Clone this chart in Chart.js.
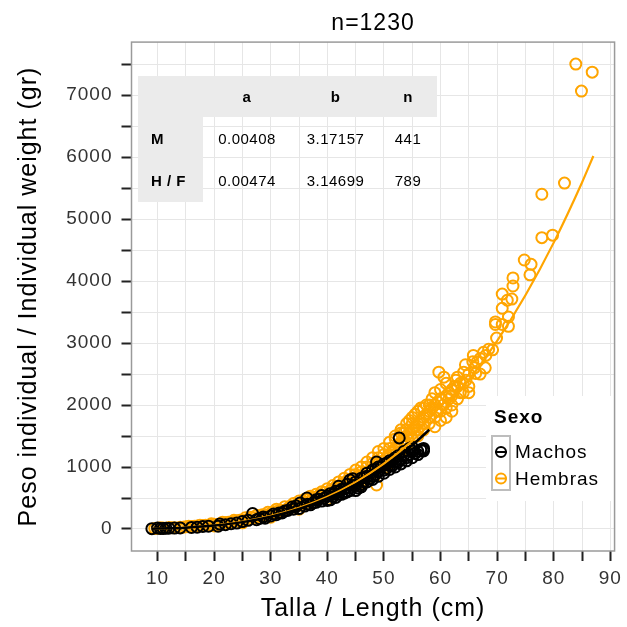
<!DOCTYPE html>
<html>
<head>
<meta charset="utf-8">
<script src="https://cdn.jsdelivr.net/npm/chart.js@4.4.0/dist/chart.umd.min.js"></script>
<style>
  body { margin: 0; background: #fff; }
  #wrap { width: 627px; height: 627px; }
</style>
</head>
<body>
<div id="wrap"><canvas id="lwChart" width="627" height="627"></canvas></div>
<script>
// Machos (black) - length (cm) and weight (gr)
const machosL = [9, 10, 11, 12, 13, 17, 18, 20.7, 21, 22, 24, 26.8, 27.5, 28.7, 29, 30, 31, 32, 33, 33.8,
  35, 35.2, 36, 36.4, 37, 38, 38.5, 39, 40, 40.5, 41, 41.5, 42, 42.5, 43, 43.5, 44, 44, 44.5, 45,
  45.5, 46, 46, 46.5, 47, 47.5, 48, 48, 48.5, 48.7, 49, 49.5, 50, 50, 50.5, 51, 51, 51.5, 52, 52,
  52.5, 52.7, 53, 53.5, 54, 54.5, 55, 55.5, 56, 56.9, 57,
  10.5, 11.5, 14, 16, 19, 23, 25, 26, 28, 30.5, 31.5, 32.5, 34, 34.5, 36.5, 37.5, 38, 39.5, 40, 41,
  42, 42.5, 43, 44, 45, 45, 46, 46.5, 47, 47, 48, 48.5, 49, 49, 50, 50.5, 51, 51.5, 52, 52.5,
  53, 53.5, 54, 54.5, 55, 55, 56, 56.5, 57, 44.5, 43.5, 42, 41.5, 40.5, 39];
const machosW = [5, 15, 10, 12, 15, 30, 40, 45, 80, 70, 95, 250, 150, 195, 175, 210, 230, 260, 300, 355,
  330, 420, 370, 500, 390, 430, 480, 450, 530, 470, 560, 510, 600, 560, 650, 600, 790, 620, 700, 760,
  660, 820, 720, 760, 900, 810, 950, 850, 880, 1080, 920, 1000, 1050, 900, 980, 1100, 960, 1020, 1150, 1000,
  1080, 1470, 1120, 1180, 1150, 1200, 1260, 1220, 1250, 1275, 1260,
  8, 12, 18, 25, 45, 85, 120, 140, 170, 240, 260, 290, 320, 370, 400, 420, 470, 500, 460, 520,
  560, 640, 580, 660, 700, 620, 680, 830, 760, 850, 800, 960, 850, 1000, 950, 1060, 1020, 1100, 1080, 1180,
  1050, 1250, 1100, 1300, 1150, 1320, 1200, 1280, 1300, 810, 720, 690, 610, 570, 540];

// Hembras (orange)
const hembrasL = [9.5, 10.5, 11, 12, 13, 14, 15, 16, 17, 18, 19, 20, 21, 22, 23, 24, 25, 26, 27, 28,
  29, 30, 31, 32, 33, 34, 35, 36, 37, 38, 39, 40, 41, 42, 43, 44, 45, 45.5, 46, 46.5,
  47, 47.5, 48, 48.5, 48.7, 49, 50, 50.5, 51, 51.5, 52, 52, 52.5, 53, 53, 53.5, 54, 54, 54.5, 55,
  55, 55.5, 56, 56, 56.5, 57, 57, 57.5, 58, 58, 58.5, 59, 59, 59.5, 59.7, 60, 60, 60.6, 61, 61,
  61.5, 62, 62, 62.7, 63, 63, 63.5, 64, 64.1, 64.4, 65, 65, 65.7, 65.8, 66.2, 67, 67.6, 67.9,
  69.2, 69.7, 69.7, 69.9, 70.9, 70.9, 70.9, 71.8, 72, 72, 72.6, 72.8, 72.8, 74.8, 75.8, 76,
  77.9, 77.9, 79.8, 81.9, 83.9, 84.9, 86.8,
  10, 12.5, 14.5, 16.5, 18.5, 20.5, 22.5, 24.5, 26.5, 28.5, 30.5, 31.5, 33.5, 35.5, 36.5, 37.5, 38.5, 39.5, 40.5, 41.5,
  42.5, 43.5, 44.5, 45, 46, 47, 48, 49, 50, 50.5, 51, 52, 53, 53.5, 54, 54.5, 55, 55.5, 56, 56.5,
  57, 57.5, 58, 58.5, 59, 59.5, 60, 60.5, 61, 61.5, 62, 62.5, 63, 63.5, 64, 64.5, 65, 66, 66.5, 67,
  68, 68.5, 58, 59, 57, 56, 55, 60, 61, 62,
  15.5, 17.5, 19.5, 21.5, 23.5, 25.5, 27.5, 29.5, 31, 32.5, 34, 35, 36, 37, 38, 39, 40, 41, 42, 43,
  44, 45, 46, 47, 48, 49, 50, 51, 52, 53, 54, 20, 25, 30, 35, 40];
const hembrasW = [10, 20, 15, 25, 20, 30, 35, 40, 50, 55, 60, 75, 80, 100, 110, 130, 140, 160, 180, 200,
  230, 250, 270, 300, 330, 360, 380, 420, 450, 490, 520, 560, 600, 650, 700, 740, 800, 700, 860, 780,
  920, 860, 980, 1000, 710, 1050, 1100, 1150, 1200, 1250, 1300, 1500, 1350, 1400, 1600, 1450, 1500, 1700, 1550, 1600,
  1800, 1650, 1700, 1900, 1750, 1800, 1950, 1850, 1900, 1700, 1950, 2000, 1800, 2050, 2530, 2100, 1900, 2450, 2150, 1950,
  2200, 2250, 2000, 2400, 2300, 2100, 2200, 2350, 2530, 2650, 2300, 2200, 2700, 2800, 2510, 2500, 2850, 2600,
  2890, 3300, 3340, 3080, 3790, 3560, 3300, 3690, 3420, 3270, 3710, 4050, 3920, 4340, 4100, 4270,
  4700, 5400, 4740, 5580, 7500, 7065, 7370,
  12, 22, 28, 45, 60, 70, 110, 140, 190, 230, 280, 300, 370, 420, 470, 500, 540, 590, 620, 680,
  720, 780, 820, 880, 920, 1000, 1060, 1150, 1200, 1000, 1300, 1200, 1250, 1550, 1350, 1750, 1450, 1850, 1500, 1950,
  1600, 2000, 1800, 2100, 1650, 1900, 2250, 2000, 2350, 2100, 2150, 2300, 2450, 2350, 2200, 2400, 2500, 2600, 2700, 2750,
  2800, 2900, 2000, 2200, 1700, 1600, 1700, 1750, 1800, 1900,
  45, 60, 85, 110, 140, 180, 220, 270, 320, 360, 410, 450, 480, 530, 560, 600, 650, 700, 760, 820,
  880, 950, 1000, 1080, 1150, 1250, 1300, 1400, 1450, 1550, 1600, 50, 100, 190, 320, 480];

// fitted W = a*L^b curves
const machosFitL = [9, 12, 15, 20, 25, 30, 35, 40, 45, 50, 55, 58];
const machosFitW = [4.3, 10.8, 21.9, 54.6, 110.8, 197.6, 322, 492, 715, 998, 1350, 1601];
const hembrasFitL = [9, 12, 15, 20, 25, 30, 35, 40, 45, 50, 55, 60, 65, 70, 75, 80, 85, 87];
const hembrasFitW = [4.8, 11.8, 23.8, 58.9, 118.9, 211, 343, 522, 756, 1053, 1421, 1869, 2403, 3035, 3771, 4620, 5590, 6017];

// inset table
const tableCols = ['a', 'b', 'n'];
const tableRows = ['M', 'H / F'];
const tableA = ['0.00408', '0.00474'];
const tableB = ['3.17157', '3.14699'];
const tableN = ['441', '789'];

// axis ticks
const xTicks = [10, 15, 20, 25, 30, 35, 40, 45, 50, 55, 60, 65, 70, 75, 80, 85, 90];
const yTicks = [0, 500, 1000, 1500, 2000, 2500, 3000, 3500, 4000, 4500, 5000, 5500, 6000, 6500, 7000, 7500];

const FONT = "'Liberation Sans', Arial, sans-serif";
const colors = {
  machos: '#000000',
  hembras: '#FFA500'
};

const toPoints = (xs, ys) => xs.map((x, i) => ({ x: x, y: ys[i] }));

// the original text is set a little wider than Liberation Sans
const wideText = {
  id: 'wideText',
  beforeDraw(chart) {
    chart.ctx.letterSpacing = '1px';
  }
};

// table drawn inside the panel, behind the points
const insetTable = {
  id: 'insetTable',
  beforeDatasetsDraw(chart) {
    const ctx = chart.ctx;
    ctx.save();
    ctx.letterSpacing = '0.5px';
    ctx.fillStyle = '#ebebeb';
    ctx.fillRect(138, 76, 299, 41);
    ctx.fillRect(138, 76, 65, 126);
    ctx.fillStyle = '#000';
    ctx.textBaseline = 'middle';
    ctx.textAlign = 'center';
    const colX = [247, 335.5, 408];
    ctx.font = 'bold 15px ' + FONT;
    tableCols.forEach((c, i) => ctx.fillText(c, colX[i], 98));
    const rowY = [140, 182];
    tableRows.forEach((r, i) => {
      ctx.font = 'bold 15px ' + FONT;
      ctx.textAlign = 'left';
      ctx.fillText(r, 151, rowY[i]);
      ctx.font = '15px ' + FONT;
      ctx.textAlign = 'center';
      ctx.fillText(tableA[i], colX[0], rowY[i]);
      ctx.fillText(tableB[i], colX[1], rowY[i]);
      ctx.fillText(tableN[i], colX[2], rowY[i]);
    });
    ctx.restore();
  }
};

// ggplot-like legend box, on top of the points
const sexoLegend = {
  id: 'sexoLegend',
  afterDatasetsDraw(chart) {
    const ctx = chart.ctx;
    const entries = chart.data.datasets.filter(d => d.legendName);
    ctx.save();
    ctx.fillStyle = '#fff';
    ctx.fillRect(486, 396, 130, 105);
    ctx.fillStyle = '#000';
    ctx.font = 'bold 19px ' + FONT;
    ctx.textBaseline = 'middle';
    ctx.textAlign = 'left';
    ctx.fillText('Sexo', 494, 418);
    ctx.strokeStyle = '#bdbdbd';
    ctx.lineWidth = 2;
    ctx.strokeRect(492, 436, 18, 54);
    entries.forEach((d, i) => {
      const cy = 452 + i * 26.5;
      ctx.strokeStyle = d.borderColor;
      ctx.lineWidth = 2;
      ctx.beginPath();
      ctx.arc(501, cy, 5, 0, Math.PI * 2);
      ctx.stroke();
      ctx.beginPath();
      ctx.moveTo(495, cy);
      ctx.lineTo(507, cy);
      ctx.stroke();
      ctx.fillStyle = '#000';
      ctx.font = '19px ' + FONT;
      ctx.fillText(d.legendName, 515, cy + 1);
    });
    ctx.restore();
  }
};

// panel border
const panelBorder = {
  id: 'panelBorder',
  afterDraw(chart) {
    const a = chart.chartArea;
    const ctx = chart.ctx;
    ctx.save();
    ctx.strokeStyle = '#9a9a9a';
    ctx.lineWidth = 1.5;
    ctx.strokeRect(a.left, a.top, a.right - a.left, a.bottom - a.top);
    ctx.restore();
  }
};

const ctx = document.getElementById('lwChart').getContext('2d');

new Chart(ctx, {
  type: 'scatter',
  data: {
    datasets: [
      {
        label: 'Machos fit',
        data: toPoints(machosFitL, machosFitW),
        showLine: true,
        borderColor: colors.machos,
        borderWidth: 2.5,
        pointRadius: 0,
        cubicInterpolationMode: 'monotone'
      },
      {
        label: 'Hembras fit',
        data: toPoints(hembrasFitL, hembrasFitW),
        showLine: true,
        borderColor: colors.hembras,
        borderWidth: 2.2,
        pointRadius: 0,
        cubicInterpolationMode: 'monotone'
      },
      {
        label: 'Machos',
        legendName: 'Machos',
        data: toPoints(machosL, machosW),
        borderColor: colors.machos,
        backgroundColor: 'rgba(0,0,0,0)',
        pointRadius: 5.5,
        borderWidth: 2
      },
      {
        label: 'Hembras',
        legendName: 'Hembras',
        data: toPoints(hembrasL, hembrasW),
        borderColor: colors.hembras,
        backgroundColor: 'rgba(0,0,0,0)',
        pointRadius: 5.5,
        borderWidth: 2
      }
    ]
  },
  options: {
    responsive: false,
    animation: false,
    layout: { padding: { left: 0, right: 7, top: 0, bottom: 0 } },
    scales: {
      x: {
        type: 'linear',
        min: 5.4,
        max: 90.75,
        afterFit: s => { s.height = 76; },
        afterBuildTicks: s => { s.ticks = xTicks.map(v => ({ value: v })); },
        grid: { color: '#e6e6e6', tickColor: '#222', tickLength: 10, tickWidth: 2 },
        border: { display: false },
        ticks: {
          font: { family: FONT, size: 19 },
          color: '#333',
          padding: 6,
          maxRotation: 0,
          autoSkip: false,
          callback: v => (v % 10 === 0 ? String(v) : '')
        },
        title: {
          display: true,
          text: 'Talla / Length (cm)',
          font: { family: FONT, size: 25 },
          color: '#000',
          padding: { top: 0, bottom: 3 }
        }
      },
      y: {
        type: 'linear',
        min: -355,
        max: 7855,
        afterFit: s => { s.width = 131.5; },
        afterBuildTicks: s => { s.ticks = yTicks.map(v => ({ value: v })); },
        grid: { color: '#e6e6e6', tickColor: '#222', tickLength: 10, tickWidth: 2 },
        border: { display: false },
        ticks: {
          font: { family: FONT, size: 19 },
          color: '#333',
          padding: 9,
          autoSkip: false,
          callback: v => (v % 1000 === 0 ? String(v) : '')
        },
        title: {
          display: true,
          text: 'Peso individual / Individual weight (gr)',
          font: { family: FONT, size: 25 },
          color: '#000',
          padding: { top: 14, bottom: 0 }
        }
      }
    },
    plugins: {
      legend: { display: false },
      tooltip: { enabled: false },
      title: {
        display: true,
        text: 'n=1230',
        fullSize: false,
        font: { family: FONT, size: 23, weight: 'normal' },
        color: '#000',
        padding: { top: 10, bottom: 4.5 }
      }
    }
  },
  plugins: [wideText, insetTable, sexoLegend, panelBorder]
});
</script>
</body>
</html>
